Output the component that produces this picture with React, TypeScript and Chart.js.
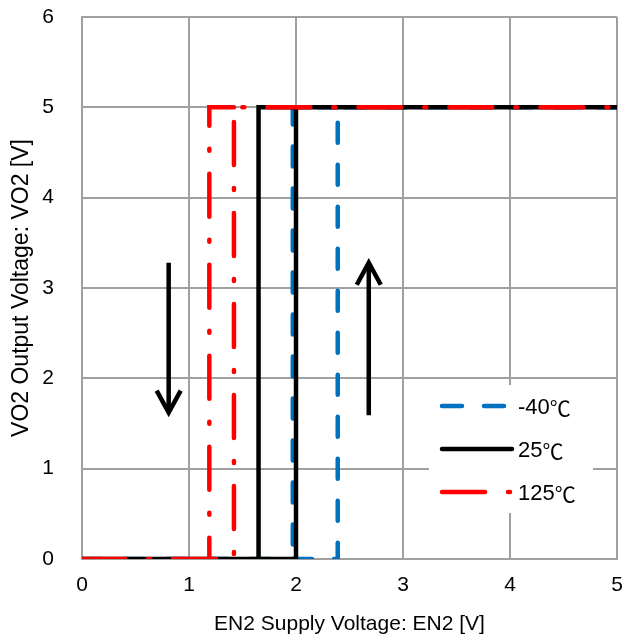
import React, { useEffect, useRef } from "react";
import { Chart, registerables } from "chart.js";

Chart.register(...registerables);

const seriesNames = ["-40℃", "25℃", "125℃"];
const seriesColors = ["#0070C0", "#000000", "#FF0000"];
const seriesDashes: number[][] = [[20, 22], [], [43, 23, 2, 23]];
const riseVoltages = [2.39, 2.0, 1.42];
const fallVoltages = [1.97, 1.65, 1.19];
const lowLevel = 0;
const highLevel = 5;
const xMin = 0;
const xMax = 5;
const yMin = 0;
const yMax = 6;
const xTicks = [0, 1, 2, 3, 4, 5];
const yTicks = [0, 1, 2, 3, 4, 5, 6];
const downArrow = { x: 0.81, from: 3.28, to: 1.62 };
const upArrow = { x: 2.68, from: 1.59, to: 3.28 };
const xTitle = "EN2 Supply Voltage: EN2 [V]";
const yTitle = "VO2 Output Voltage: VO2 [V]";

const FONT = "'Liberation Sans', Arial, sans-serif";
const CJK = "'Noto Sans CJK JP', sans-serif";

function loop(rise: number, fall: number) {
  return [
    { x: xMin, y: lowLevel },
    { x: rise, y: lowLevel },
    { x: rise, y: highLevel },
    { x: xMax, y: highLevel },
    { x: xMax, y: null },
    { x: rise, y: highLevel },
    { x: fall, y: highLevel },
    { x: fall, y: lowLevel },
  ];
}

const arrowPlugin = {
  id: "arrows",
  afterDatasetsDraw(chart: any) {
    const { ctx, scales } = chart;
    const xs = scales.x;
    const ys = scales.y;
    const drawArrow = (a: { x: number; from: number; to: number }) => {
      const px = xs.getPixelForValue(a.x);
      const y1 = ys.getPixelForValue(a.from);
      const y2 = ys.getPixelForValue(a.to);
      const dir = y2 > y1 ? 1 : -1;
      ctx.save();
      ctx.strokeStyle = "#000";
      ctx.lineWidth = 4.5;
      ctx.lineCap = "butt";
      ctx.beginPath();
      ctx.moveTo(px, y1);
      ctx.lineTo(px, y2 - dir * 2);
      ctx.stroke();
      ctx.lineJoin = "miter";
      ctx.beginPath();
      ctx.moveTo(px - 12, y2 - dir * 22);
      ctx.lineTo(px, y2);
      ctx.lineTo(px + 12, y2 - dir * 22);
      ctx.stroke();
      ctx.restore();
    };
    drawArrow(downArrow);
    drawArrow(upArrow);
  },
};

const legendPlugin = {
  id: "boxLegend",
  afterDatasetsDraw(chart: any) {
    const { ctx, chartArea } = chart;
    const left = chartArea.right - 188;
    const top = chartArea.bottom - 174;
    ctx.save();
    ctx.fillStyle = "#fff";
    ctx.fillRect(left, top, 164, 128);
    const rows = [21, 64, 107];
    seriesNames.forEach((name, i) => {
      const y = top + rows[i];
      ctx.strokeStyle = seriesColors[i];
      ctx.lineWidth = 4.5;
      ctx.lineCap = "round";
      ctx.setLineDash(seriesDashes[i]);
      ctx.beginPath();
      ctx.moveTo(left + 13, y);
      ctx.lineTo(left + 83, y);
      ctx.stroke();
      ctx.setLineDash([]);
      ctx.fillStyle = "#000";
      ctx.textBaseline = "middle";
      ctx.textAlign = "left";
      const idx = name.indexOf("℃");
      const main = idx >= 0 ? name.slice(0, idx) : name;
      const rest = idx >= 0 ? name.slice(idx) : "";
      ctx.font = `22px ${FONT}`;
      ctx.fillText(main, left + 89, y + 2);
      const w = ctx.measureText(main).width;
      if (rest) {
        ctx.font = `21px ${CJK}`;
        ctx.fillText(rest, left + 89 + w, y + 2);
      }
    });
    ctx.restore();
  },
};

export default function App() {
  const ref = useRef<HTMLCanvasElement>(null);
  useEffect(() => {
    if (!ref.current) return;
    const datasets = seriesNames.map((name, i) => ({
      label: name,
      data: loop(riseVoltages[i], fallVoltages[i]),
      borderColor: seriesColors[i],
      backgroundColor: seriesColors[i],
      borderWidth: 4.5,
      borderDash: seriesDashes[i],
      borderCapStyle: "round" as const,
      borderJoinStyle: "miter" as const,
      pointRadius: 0,
      showLine: true,
      spanGaps: false,
      tension: 0,
      fill: false,
      order: 2 - i,
    }));
    const chart = new Chart(ref.current, {
      type: "scatter",
      data: { datasets: datasets as any },
      options: {
        animation: false,
        responsive: true,
        maintainAspectRatio: false,
        layout: { padding: { top: 17, right: 8, left: 0, bottom: 0 } },
        plugins: { legend: { display: false }, tooltip: { enabled: false } },
        scales: {
          x: {
            type: "linear",
            min: xMin,
            max: xMax,
            afterBuildTicks: (s: any) => {
              s.ticks = xTicks.map((v) => ({ value: v }));
            },
            afterFit: (s: any) => {
              s.height = 82;
              s.paddingLeft = 0;
              s.paddingRight = 0;
            },
            grid: { color: "#a0a0a0", lineWidth: 2, drawTicks: false },
            border: { color: "#a0a0a0", width: 2 },
            ticks: { color: "#000", font: { size: 21, family: FONT }, padding: 14 },
            title: {
              display: true,
              text: xTitle,
              color: "#000",
              font: { size: 21, family: FONT },
              padding: { top: 4 },
            },
          },
          y: {
            type: "linear",
            min: yMin,
            max: yMax,
            afterBuildTicks: (s: any) => {
              s.ticks = yTicks.map((v) => ({ value: v }));
            },
            afterFit: (s: any) => {
              s.width = 82;
              s.paddingTop = 0;
              s.paddingBottom = 0;
            },
            grid: { color: "#a0a0a0", lineWidth: 2, drawTicks: false },
            border: { color: "#a0a0a0", width: 2 },
            ticks: { color: "#000", font: { size: 21, family: FONT }, padding: 28 },
            title: {
              display: true,
              text: yTitle,
              color: "#000",
              font: { size: 23, family: FONT },
              padding: { top: 8, bottom: 0 },
            },
          },
        },
      },
      plugins: [legendPlugin, arrowPlugin],
    });
    return () => chart.destroy();
  }, []);
  return (
    <div style={{ position: "fixed", left: 0, top: 0, width: 625, height: 641, background: "#fff" }}>
      <canvas ref={ref} />
    </div>
  );
}
